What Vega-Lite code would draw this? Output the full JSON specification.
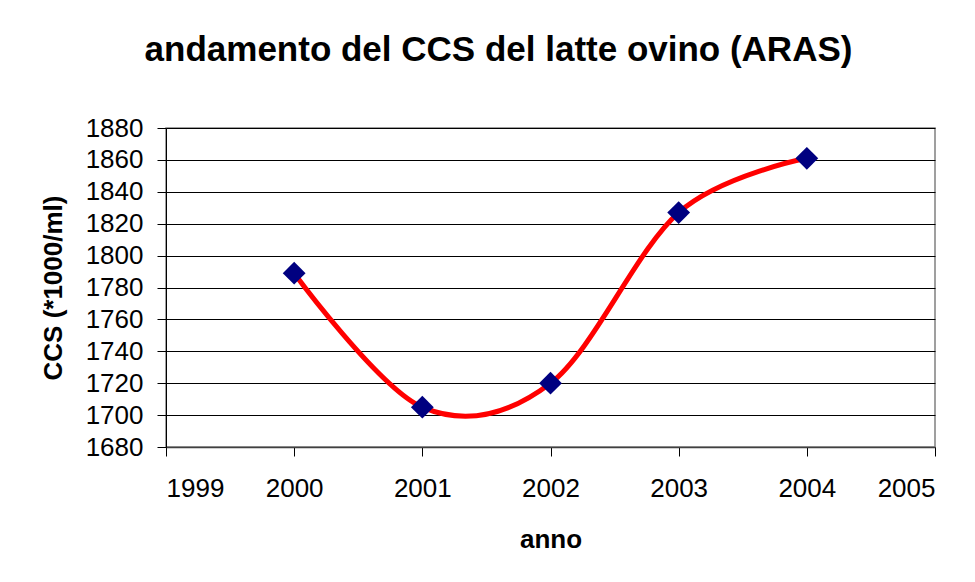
{
  "$schema": "https://vega.github.io/schema/vega-lite/v6.json",
  "autosize": "none",
  "width": 769,
  "height": 319,
  "padding": {"left": 166, "top": 128, "right": 40, "bottom": 135},
  "background": "white",
  "config": {
    "font": "Liberation Sans",
    "view": {"stroke": "#808080", "strokeWidth": 1.5}
  },
  "title": {
    "text": "andamento del CCS del latte ovino (ARAS)",
    "font": "Liberation Sans",
    "fontSize": 35,
    "fontWeight": "bold",
    "color": "black",
    "anchor": "middle",
    "dx": -52,
    "offset": 47
  },
  "data": {
    "values": [
      {"anno": 2000, "ccs": 1789},
      {"anno": 2001, "ccs": 1705},
      {"anno": 2002, "ccs": 1720},
      {"anno": 2003, "ccs": 1827},
      {"anno": 2004, "ccs": 1861}
    ]
  },
  "encoding": {
    "x": {
      "field": "anno", "type": "quantitative", "title": "anno",
      "scale": {"domain": [1999, 2005], "nice": false, "zero": false},
      "axis": {
        "values": [1999, 2000, 2001, 2002, 2003, 2004, 2005],
        "format": "d", "grid": false,
        "domainColor": "#404040", "domainWidth": 1.5,
        "tickColor": "black", "tickSize": 9, "tickWidth": 1,
        "labelFontSize": 26, "labelColor": "black", "labelPadding": 19,
        "titleFontSize": 26, "titleFontWeight": "bold", "titleColor": "black", "titlePadding": 25
      }
    },
    "y": {
      "field": "ccs", "type": "quantitative", "title": "CCS (*1000/ml)",
      "scale": {"domain": [1680, 1880], "nice": false, "zero": false},
      "axis": {
        "values": [1680, 1700, 1720, 1740, 1760, 1780, 1800, 1820, 1840, 1860, 1880],
        "format": "d",
        "grid": true, "gridColor": "black", "gridWidth": 1, "gridOpacity": 1,
        "domainColor": "black", "domainWidth": 1,
        "tickColor": "black", "tickSize": 9, "tickWidth": 1,
        "labelFontSize": 26, "labelColor": "black", "labelPadding": 14,
        "titleFontSize": 26, "titleFontWeight": "bold", "titleColor": "black", "titlePadding": 19
      }
    }
  },
  "layer": [
    {
      "mark": {"type": "line", "interpolate": "cardinal", "color": "#FF0000", "strokeWidth": 5}
    },
    {
      "mark": {"type": "point", "shape": "diamond", "filled": true, "color": "#000080", "size": 520, "opacity": 1}
    }
  ]
}
